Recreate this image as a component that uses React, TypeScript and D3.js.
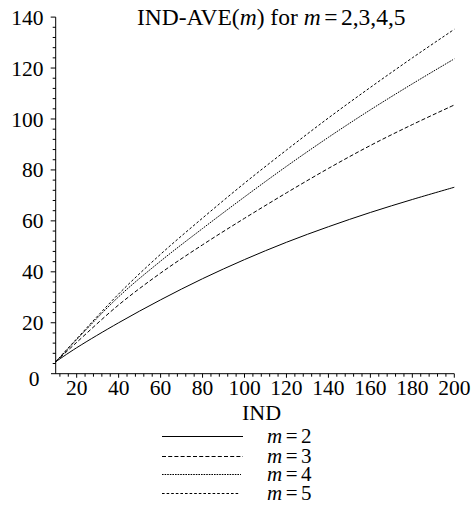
import React from "react";
import * as d3 from "d3";

const xs = [10, 20, 40, 60, 80, 100, 120, 140, 160, 180, 200];
const m2 = [4.7, 10.2, 20, 29, 37.3, 44.8, 51.6, 57.7, 63.3, 68.4, 73.2];
const m3 = [4.7, 12.3, 27, 39.5, 50.6, 61, 71, 80.6, 89.6, 97.8, 105.5];
const m4 = [4.7, 13.4, 30.2, 44.2, 57, 69.4, 81.4, 92.8, 103.6, 113.8, 123.6];
const m5 = [4.7, 13.7, 31.3, 46.9, 61.1, 74.8, 87.8, 100.4, 112.4, 124, 135.2];
const seriesNames = ["2", "3", "4", "5"];
const xTickLabels = [20, 40, 60, 80, 100, 120, 140, 160, 180, 200];
const yTickLabels = [0, 20, 40, 60, 80, 100, 120, 140];

const dashes = [null, "4,2.2", "1.6,1", "2.6,2"];
const FONT = "Liberation Serif, Times New Roman, Times, DejaVu Serif, serif";

export default function App() {
  const x = d3.scaleLinear().domain([10, 200]).range([55.7, 454.3]);
  const y = d3.scaleLinear().domain([0, 140]).range([373.7, 17.1]);
  const all = [m2, m3, m4, m5];
  const line = d3
    .line<number>()
    .x((_, i) => x(xs[i]))
    .y((d) => y(d))
    .curve(d3.curveCatmullRom.alpha(0.5));

  const xMinor = d3.range(12, 201, 4);
  const yMinor = d3.range(4, 141, 4);
  const axX = x(10);
  const axY = y(0);

  const legendYs = [436.5, 456.5, 474.5, 493.5];
  const legendEnds = [243, 243, 241, 239];
  const txt = { fontFamily: FONT } as React.CSSProperties;

  return (
    <svg width={476} height={505} style={{ display: "block", position: "absolute", left: 0, top: 0 }}>
      <rect width={476} height={505} fill="white" />
      <line x1={51} x2={x(200)} y1={axY} y2={axY} stroke="black" strokeWidth={1} />
      <line x1={axX} x2={axX} y1={y(140)} y2={axY} stroke="black" strokeWidth={1} />
      {xMinor.map((v) => (
        <line key={"xt" + v} x1={x(v)} x2={x(v)} y1={axY} y2={axY + (v % 20 === 0 ? 4 : 3)} stroke="black" strokeWidth={1} />
      ))}
      {yMinor.map((v) => (
        <line key={"yt" + v} x1={axX - (v % 20 === 0 ? 5 : 3)} x2={axX} y1={y(v)} y2={y(v)} stroke="black" strokeWidth={1} />
      ))}
      {xTickLabels.map((v) => (
        <text key={"xl" + v} x={x(v)} y={395} textAnchor="middle" style={txt} fontSize={21.5}>
          {v}
        </text>
      ))}
      {yTickLabels.map((v) => (
        <text
          key={"yl" + v}
          x={v === 0 ? 39.5 : 43.5}
          y={y(v) + (v === 0 ? 5 : 0)}
          dy="0.35em"
          textAnchor="end"
          style={txt}
          fontSize={21.5}
        >
          {v}
        </text>
      ))}
      {all.map((s, i) => (
        <path
          key={"c" + i}
          d={line(s) || ""}
          fill="none"
          stroke="black"
          strokeWidth={1}
          strokeDasharray={dashes[i] || undefined}
        />
      ))}
      <text x={137} y={25} style={txt} fontSize={23.5}>
        IND-AVE(<tspan fontStyle="italic">m</tspan>) for <tspan fontStyle="italic">m</tspan>
        <tspan dx={3.5}>=</tspan>
        <tspan dx={3.5}>2,3,4,5</tspan>
      </text>
      <text x={261.5} y={420} textAnchor="middle" style={txt} fontSize={22}>
        IND
      </text>
      {seriesNames.map((n, i) => (
        <g key={"lg" + n}>
          <line
            x1={162}
            x2={legendEnds[i]}
            y1={legendYs[i]}
            y2={legendYs[i]}
            stroke="black"
            strokeWidth={1}
            strokeDasharray={dashes[i] || undefined}
          />
          <text x={267} y={legendYs[i] + 6.5} style={txt} fontSize={21}>
            <tspan fontStyle="italic">m</tspan>
            <tspan dx={3.5}>=</tspan>
            <tspan dx={3.5}>{n}</tspan>
          </text>
        </g>
      ))}
    </svg>
  );
}
